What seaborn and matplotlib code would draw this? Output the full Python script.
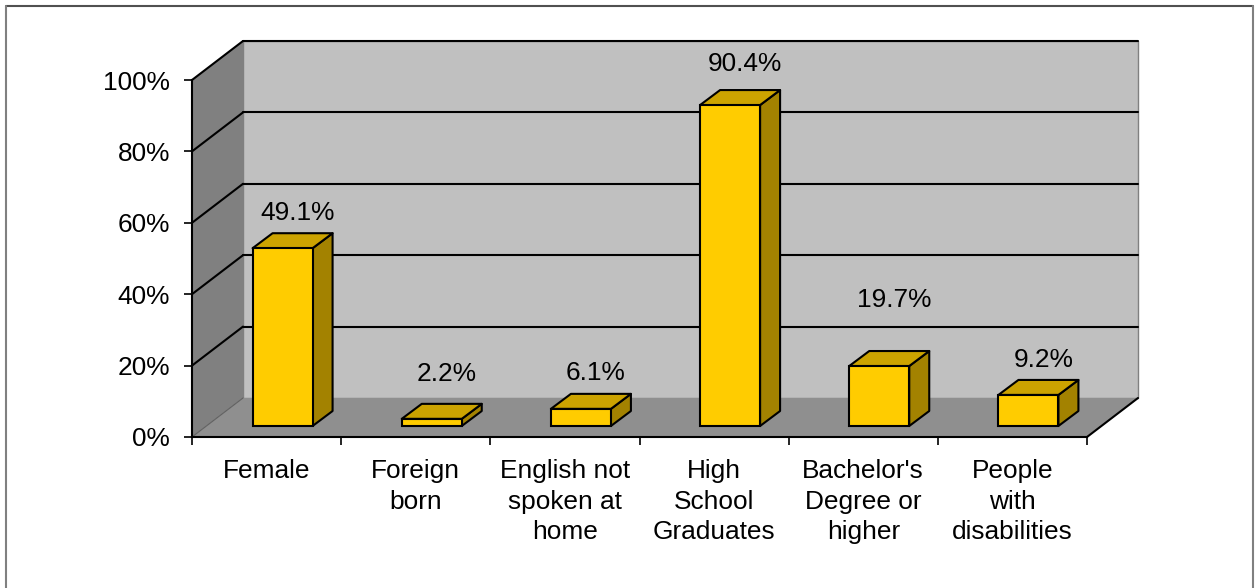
import matplotlib
matplotlib.use("Agg")
import matplotlib.pyplot as plt
import seaborn as sns
from matplotlib.lines import Line2D
from matplotlib.patches import Polygon
from matplotlib.transforms import Affine2D, IdentityTransform

categories = ["Female", "Foreign\nborn", "English not\nspoken at\nhome", "High\nSchool\nGraduates",
              "Bachelor's\nDegree or\nhigher", "People\nwith\ndisabilities"]
# heights as drawn in the picture, the printed labels do not quite agree with them
bar_values = [49.8, 2.0, 4.8, 89.9, 16.8, 8.7]
bar_labels = ["49.1%", "2.2%", "6.1%", "90.4%", "19.7%", "9.2%"]
label_gaps = [20, 30, 21, 26, 51, 20]
y_ticks = [0, 20, 40, 60, 80, 100]

W, H = 1256, 588
DEPTH_X, DEPTH_Y = 51, 39
BAR_DX, BAR_DY = 20, 15
SHIFT_X, SHIFT_Y = 16, 11
TEXT_SIZE = 18.9

sns.set_style("white")
plt.rcParams["font.family"] = ["Liberation Sans", "DejaVu Sans"]

fig = plt.figure(figsize=(W / 100, H / 100), dpi=100)
ax = fig.add_axes([192 / W, (H - 437) / H, (1087 - 192) / W, (437 - 80) / H])

sns.barplot(x=list(range(6)), y=bar_values, ax=ax, color="#FFCC00", saturation=1,
            width=60 / 149.17, edgecolor="black", linewidth=1.5, zorder=5)
ax.set_xlim(-0.5, 5.5)
ax.set_ylim(0, 100)


def px(x, y, dx=0, dy=0):
    a, b = ax.transData.transform((x, y))
    return (a + dx, b + dy)


def poly(pts, color, edge="none", lw=0, z=1):
    ax.add_patch(Polygon(pts, closed=True, facecolor=color, edgecolor=edge, linewidth=lw,
                         transform=IdentityTransform(), clip_on=False, zorder=z, joinstyle="round"))


def line(p, q, color="black", lw=1.5, z=2):
    ax.add_line(Line2D([p[0], q[0]], [p[1], q[1]], color=color, linewidth=lw,
                       transform=IdentityTransform(), clip_on=False, zorder=z))


# walls and floor
poly([px(-0.5, 0), px(-0.5, 100), px(-0.5, 100, DEPTH_X, DEPTH_Y), px(-0.5, 0, DEPTH_X, DEPTH_Y)], "#808080")
poly([px(-0.5, 0, DEPTH_X, DEPTH_Y), px(5.5, 0, DEPTH_X, DEPTH_Y), px(5.5, 100, DEPTH_X, DEPTH_Y),
      px(-0.5, 100, DEPTH_X, DEPTH_Y)], "#C0C0C0", edge="#808080", lw=1)
poly([px(-0.5, 0), px(5.5, 0), px(5.5, 0, DEPTH_X, DEPTH_Y), px(-0.5, 0, DEPTH_X, DEPTH_Y)], "#8F8F8F")
line(px(-0.5, 0), px(-0.5, 0, DEPTH_X, DEPTH_Y), color="#606060", lw=0.8)
line(px(5.5, 0), px(5.5, 0, DEPTH_X, DEPTH_Y), z=3)

for t in y_ticks[1:]:
    line(px(-0.5, t), px(-0.5, t, DEPTH_X, DEPTH_Y))
    line(px(-0.5, t, DEPTH_X, DEPTH_Y), px(5.5, t, DEPTH_X, DEPTH_Y))

# bars, front face comes from seaborn, sides are built on top of it
shift = Affine2D().translate(SHIFT_X, SHIFT_Y)
for bar, gap, text in zip(ax.patches, label_gaps, bar_labels):
    x0, x1, h = bar.get_x(), bar.get_x() + bar.get_width(), bar.get_height()
    bar.set_transform(ax.transData + shift)
    bar.set_clip_on(False)
    sx, sy = SHIFT_X, SHIFT_Y
    poly([px(x1, 0, sx, sy), px(x1, h, sx, sy), px(x1, h, sx + BAR_DX, sy + BAR_DY),
          px(x1, 0, sx + BAR_DX, sy + BAR_DY)], "#A38200", edge="black", lw=1.5, z=4)
    poly([px(x0, h, sx, sy), px(x1, h, sx, sy), px(x1, h, sx + BAR_DX, sy + BAR_DY),
          px(x0, h, sx + BAR_DX, sy + BAR_DY)], "#CCA300", edge="black", lw=1.5, z=4)
    lx, ly = px((x0 + x1) / 2, h, sx + BAR_DX - 5, sy + BAR_DY + gap)
    ax.text(lx, ly, text, transform=IdentityTransform(), ha="center", va="center",
            fontsize=TEXT_SIZE, color="black", zorder=6, clip_on=False)

# axes
sns.despine(ax=ax, top=True, right=True)
for side in ["left", "bottom"]:
    ax.spines[side].set_color("black")
    ax.spines[side].set_linewidth(1.5)
    ax.spines[side].set_zorder(7)
ax.set_facecolor("none")
ax.set_yticks(y_ticks)
ax.set_yticklabels([f"{t}%" for t in y_ticks], fontsize=TEXT_SIZE, color="black")
ax.tick_params(axis="y", length=6, width=1.2, color="black", pad=10, left=True)
ax.set_xticks(range(6))
ax.set_xticklabels(categories, fontsize=TEXT_SIZE, linespacing=1.34, color="black")
ax.tick_params(axis="x", which="major", length=0, pad=16)
ax.set_xticks([i - 0.5 for i in range(7)], minor=True)
ax.tick_params(axis="x", which="minor", length=6, width=1.2, color="black", bottom=True)

# outer chart frame, the bottom edge is cut off in the picture
fig.add_artist(Line2D([6 / W, 1253 / W], [1 - 6 / H, 1 - 6 / H], color="#505050", linewidth=1.5))
fig.add_artist(Line2D([6 / W, 6 / W], [0, 1 - 6 / H], color="#808080", linewidth=1.5))
fig.add_artist(Line2D([1253 / W, 1253 / W], [0, 1 - 6 / H], color="#808080", linewidth=1.5))

fig.savefig("out.png", dpi=100, facecolor="white")
